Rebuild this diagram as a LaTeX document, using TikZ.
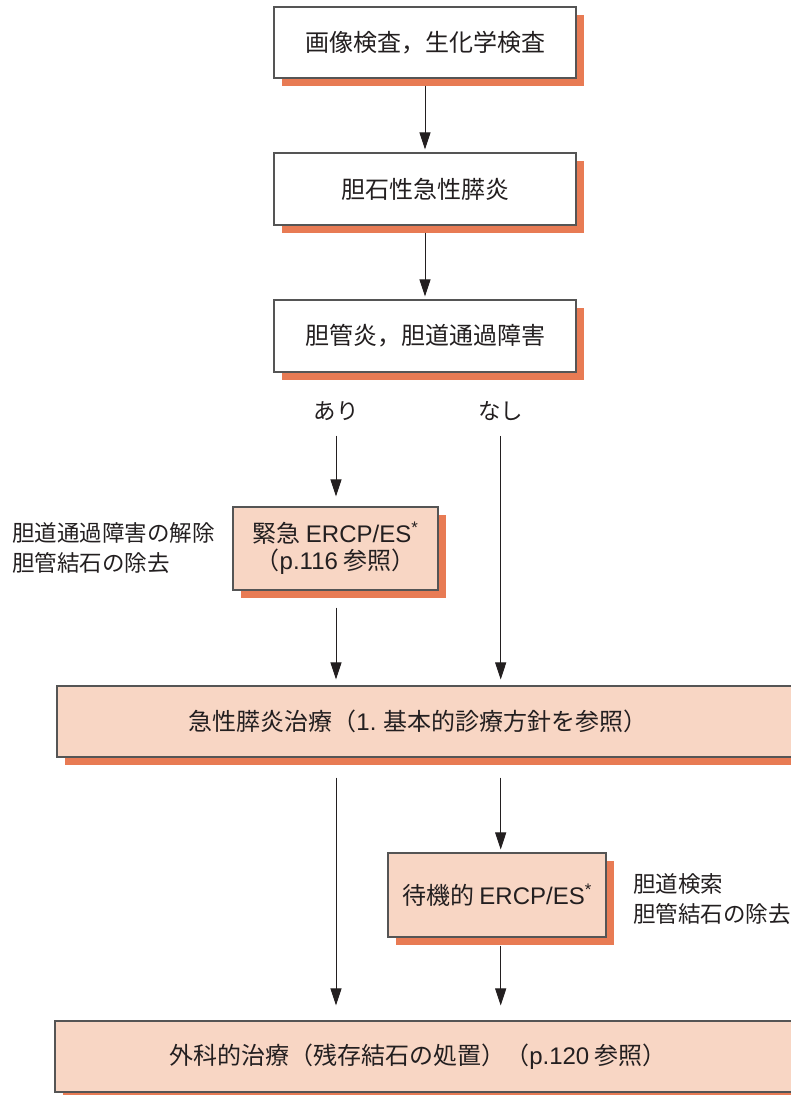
\documentclass[tikz,border=0pt]{standalone}
\usepackage{fontspec}
\setmainfont{Noto Sans CJK JP}
\newfontfamily\lat{Liberation Sans}
\usetikzlibrary{arrows.meta,shadows}
\definecolor{txt}{HTML}{231F20}
\definecolor{edge}{HTML}{555555}
\definecolor{peach}{HTML}{F8D6C4}
\definecolor{shad}{HTML}{E87B54}
\newcommand{\myast}{\textsuperscript{\lat *}}
\tikzset{
  box/.style={draw=edge, line width=1.1pt, inner sep=0pt, align=center, text=txt,
    font=\fontsize{24}{27}\selectfont,
    general shadow={fill=shad, shadow xshift=7.5pt, shadow yshift=-7.5pt}},
  wbox/.style={box, fill=white},
  pbox/.style={box, fill=peach},
  lbl/.style={inner sep=0pt, text=txt, font=\fontsize{22.5}{30}\selectfont, align=left},
  btxt/.style={inner sep=0pt, text=txt, font=\fontsize{24}{27}\selectfont},
  conn/.style={draw=txt, line width=1pt, -{Triangle[width=11pt,length=17pt]}}
}
\begin{document}
\begin{tikzpicture}[x=1pt,y=-1pt]
\useasboundingbox (0,0) rectangle (791,1095);
\node[wbox, minimum width=302pt, minimum height=71pt] (b1) at (425,42.5) {画像検査，生化学検査};
\node[wbox, minimum width=302pt, minimum height=72pt] (b2) at (425,189) {胆石性急性膵炎};
\node[wbox, minimum width=302pt, minimum height=72pt] (b3) at (425,336) {胆管炎，胆道通過障害};
\node[lbl] (ari) at (336,411) {あり};
\node[lbl] (nasi) at (500.7,411) {なし};
\node[pbox, minimum width=205pt, minimum height=83pt] (e1) at (335.5,548.5) {緊急 {\lat ERCP/ES}\myast\\（{\lat p.116} 参照）};
\node[lbl, anchor=west] (l1) at (12,548) {胆道通過障害の解除\\胆管結石の除去};
\node[pbox, minimum width=743pt, minimum height=71pt] (big) at (428.5,721.5) {};
\node[btxt] (bigt) at (418,721.5) {急性膵炎治療（{\lat 1.} 基本的診療方針を参照）};
\node[pbox, minimum width=218pt, minimum height=84pt] (e2) at (497,895) {待機的 {\lat ERCP/ES}\myast};
\node[lbl, anchor=west] (l2) at (633,899.5) {胆道検索\\胆管結石の除去};
\node[pbox, minimum width=745pt, minimum height=71pt] (bot) at (427.5,1056.5) {};
\node[btxt] (bott) at (418,1056.5) {外科的治療（残存結石の処置）（{\lat p.120} 参照）};
\draw[conn, shorten <=7pt, shorten >=3pt] (b1) -- (b2);
\draw[conn, shorten <=7pt, shorten >=3pt] (b2) -- (b3);
\draw[conn, shorten <=15pt, shorten >=10pt] (ari.south) -- (ari.south |- e1.north);
\draw[conn, shorten <=15pt, shorten >=6pt] (nasi.south) -- (nasi.south |- big.north);
\draw[conn, shorten <=17pt, shorten >=6pt] (ari.south |- e1.south) -- (ari.south |- big.north);
\draw[conn, shorten <=20pt, shorten >=15pt] (ari.south |- big.south) -- (ari.south |- bot.north);
\draw[conn, shorten <=20pt, shorten >=3pt] (nasi.south |- big.south) -- (nasi.south |- e2.north);
\draw[conn, shorten <=8pt, shorten >=15pt] (nasi.south |- e2.south) -- (nasi.south |- bot.north);
\end{tikzpicture}
\end{document}
